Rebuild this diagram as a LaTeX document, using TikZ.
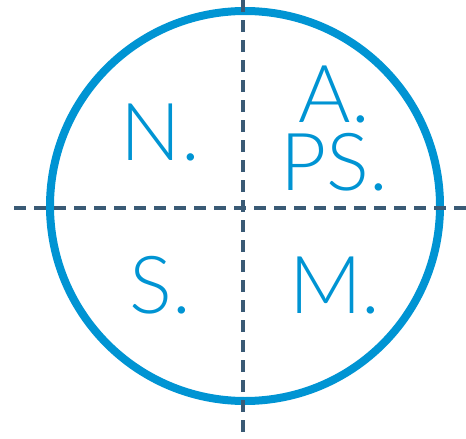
\documentclass[tikz,border=0pt]{standalone}
\usepackage{fontspec}
\setmainfont{Lato}[UprightFont={* Light}]
\usepackage{tikz}
\usetikzlibrary{calc}
\definecolor{ringblue}{RGB}{0,148,211}
\definecolor{axisslate}{RGB}{58,90,117}

\begin{document}
\begin{tikzpicture}[x=1pt,y=-1pt]
        \useasboundingbox (0,0) rectangle (466,439);
        \tikzset{quad/.style={text=ringblue,inner sep=0pt,anchor=base,text height=58pt,text depth=0pt,font=\fontsize{80}{80}\selectfont}}
        % ring
        \coordinate (c) at (245,206);
        \draw[ringblue,line width=8pt] (c) circle (195);
        % axes
        \coordinate (hl) at (14,208);
        \coordinate (hr) at (466,208);
        \coordinate (vt) at (243,0);
        \coordinate (vb) at (243,439);
        \draw[axisslate,line width=4pt,dash pattern=on 12pt off 8pt] (hl) -- (hr);
        \draw[axisslate,line width=4pt,dash pattern=on 12pt off 8pt] (vt) -- (vb);
        % quadrant labels
        \node[quad] (n) at (160.5,160) {N.};
        \node[quad] (a) at (334.5,122) {A.};
        \node[quad] (ps) at (334,190) {PS.};
        \node[quad] (s) at (160.5,313) {S.};
        \node[quad] (m) at (335,313) {M.};
      \end{tikzpicture}
\end{document}
